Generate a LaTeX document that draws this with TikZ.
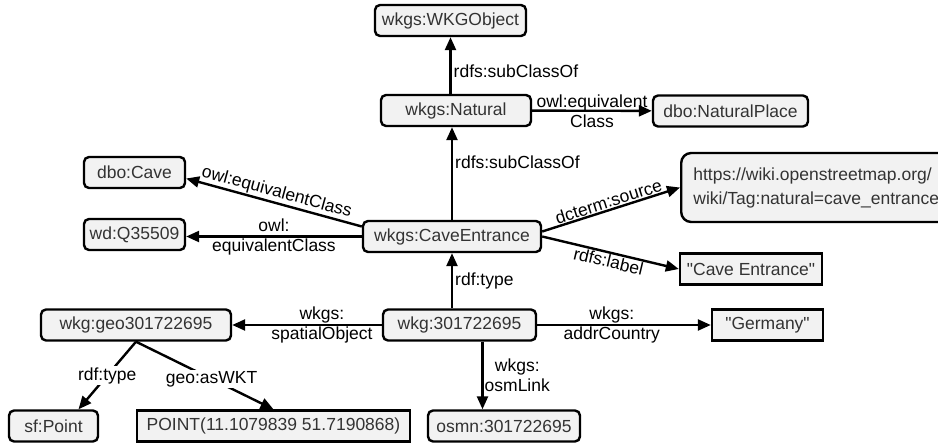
\documentclass[tikz,border=0pt]{standalone}
\usepackage{fontspec}
\setmainfont{Liberation Sans}
\newfontfamily\lsans{Liberation Sans}
\usetikzlibrary{arrows.meta}
\definecolor{boxfill}{HTML}{F2F2F2}
\definecolor{boxtext}{HTML}{333333}
\tikzset{
  base/.style={draw, line width=2.4pt, fill=boxfill, text=boxtext, minimum height=31pt, inner sep=2pt, font=\lsans\fontsize{17.5}{20}\selectfont},
  res/.style={base, rounded corners=5pt},
  lit/.style={base},
  edge/.style={line width=2.4pt, -{Triangle[length=13pt,width=11pt]}},
  lbl/.style={font=\lsans\fontsize{17.5}{20}\selectfont, text=black, align=center, inner sep=2pt},
}
\begin{document}
\begin{tikzpicture}[x=1pt,y=-1pt]
\useasboundingbox (0,0) rectangle (938,444);
\node[res, minimum width=151pt] (wko) at (450.5,20.5) {wkgs:WKGObject};
\node[res, minimum width=150pt] (nat) at (456,110.5) {wkgs:Natural};
\node[res, minimum width=155pt] (np) at (730.5,111) {dbo:NaturalPlace};
\node[res, minimum width=178pt] (ce) at (452,236.5) {wkgs:CaveEntrance};
\node[res, minimum width=101pt] (cave) at (134.5,172.5) {dbo:Cave};
\node[res, minimum width=101pt] (wd) at (134.5,234.5) {wd:Q35509};
\node[res, rounded corners=10pt, minimum width=270pt, minimum height=69pt, align=left, anchor=west, font=\lsans\fontsize{17.5}{24}\selectfont] (url) at (680,187.5) {https://wiki.openstreetmap.org/\\wiki/Tag:natural=cave\_entrance};
\node[lit, minimum width=142pt] (cel) at (751,269) {"Cave Entrance"};
\node[res, minimum width=153pt] (wkg) at (459.5,325) {wkg:301722695};
\node[lit, minimum width=111pt] (ger) at (767.5,325) {"Germany"};
\node[res, minimum width=190pt] (geo) at (136,325) {wkg:geo301722695};
\node[res, minimum width=89pt] (sf) at (53.5,426) {sf:Point};
\node[lit, minimum width=273pt] (pt) at (273.5,426) {POINT(11.1079839 51.7190868)};
\node[res, minimum width=152pt] (osmn) at (504,426) {osmn:301722695};

\draw[edge] (nat.north -| wko) -- node[lbl, right, pos=0.4] {rdfs:subClassOf} (wko);
\draw[edge] (nat) -- node[lbl] {owl:equivalent\\Class} (np);
\draw[edge] (ce) -- node[lbl, right, pos=0.62] {rdfs:subClassOf} (ce |- nat.south);
\draw[edge] ([yshift=10pt]ce.west) -- node[lbl, sloped, above, inner sep=1pt] {owl:equivalentClass} ([yshift=-6pt]cave.east);
\draw[edge] (ce.west) -- node[lbl] {owl:\\equivalentClass} (ce.west -| wd.east);
\draw[edge] ([yshift=5pt]ce.east) -- node[lbl, sloped, above, inner sep=1pt] {dcterm:source} (url.west);
\draw[edge] (ce.east) -- node[lbl, sloped, below, inner sep=1pt] {rdfs:label} (cel.west);
\draw[edge] (wkg.north -| ce) -- node[lbl, right] {rdf:type} (ce);
\draw[edge] (wkg) -- node[lbl, pos=0.4] {wkgs:\\spatialObject} (geo);
\draw[edge] (wkg) -- node[lbl, pos=0.43] {wkgs:\\addrCountry} (ger);
\draw[edge] ([xshift=23pt]wkg.south) -- node[lbl, right, inner sep=1pt] {wkgs:\\osmLink} ([xshift=23pt]wkg.south |- osmn.north);
\draw[edge] (geo.south) -- node[lbl, fill=white, inner sep=1pt] {rdf:type} ([xshift=25pt]sf.north);
\draw[edge] (geo.south) -- node[lbl, fill=white, inner sep=1pt, pos=0.55] {geo:asWKT} (pt.north);
\end{tikzpicture}
\end{document}
